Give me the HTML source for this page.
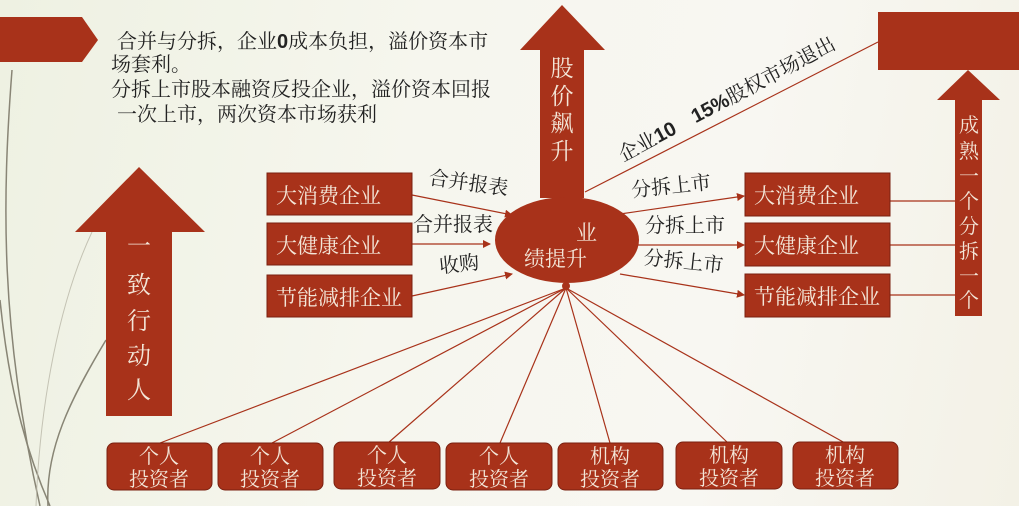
<!DOCTYPE html>
<html><head><meta charset="utf-8"><style>
html,body{margin:0;padding:0;width:1019px;height:506px;overflow:hidden}
body{background:linear-gradient(100deg,#eef1e2 0%,#f6f6ee 40%,#f8f7f2 70%,#f3f1e6 100%)}
svg{display:block}
text{font-family:"Liberation Serif","Noto Serif CJK SC",serif}
</style></head><body>
<svg width="1019" height="506" viewBox="0 0 1019 506" xmlns="http://www.w3.org/2000/svg">
<defs>
<marker id="ar" markerWidth="8" markerHeight="8" refX="7" refY="4" orient="auto" markerUnits="userSpaceOnUse"><path d="M0,0 L8,4 L0,8 z" fill="#a8321a"/></marker>
</defs>
<g fill="none" stroke="#6f6a5a" stroke-width="1.5" opacity="0.8">
<path d="M12,70 C2,200 0,330 40,506"/>
<path d="M0,300 C10,400 30,460 50,506"/>
<path d="M106,340 C70,400 45,450 48,506"/>
</g>
<g fill="none" stroke="#b9b7a8" stroke-width="1" opacity="0.8">
<path d="M92,232 C60,300 40,400 36,506"/>
</g>
<polygon points="0,17 82,17 98,40 82,62 0,62" fill="#a8321a"/>
<g font-size="20" fill="#222">
<text x="117" y="48">合并与分拆，企业<tspan font-family="Liberation Sans" font-weight="bold">0</tspan>成本负担，溢价资本市</text>
<text x="111" y="71">场套利。</text>
<text x="111" y="96">分拆上市股本融资反投企业，溢价资本回报</text>
<text x="117" y="121">一次上市，两次资本市场获利</text>
</g>
<polygon points="139,167 205,232 172,232 172,416 106,416 106,232 75,232" fill="#a8321a"/>
<g font-size="24" fill="#f3e6d8" text-anchor="middle">
<text x="139" y="254">一</text><text x="139" y="293">致</text><text x="139" y="329">行</text><text x="139" y="364">动</text><text x="139" y="398">人</text>
</g>
<polygon points="562,5 605,50 584,50 584,198 540,198 540,50 520,50" fill="#a8321a"/>
<g font-size="23" fill="#f3e6d8" text-anchor="middle">
<text x="562" y="76">股</text><text x="562" y="104">价</text><text x="562" y="131">飙</text><text x="562" y="159">升</text>
</g>
<rect x="878" y="12" width="141" height="58" fill="#a8321a"/>
<polygon points="968,70 1000,100 982,100 982,316 955,316 955,100 937,100" fill="#a8321a"/>
<g font-size="20" fill="#f3e6d8" text-anchor="middle">
<text x="969" y="132">成</text><text x="969" y="158">熟</text><text x="969" y="183">一</text><text x="969" y="208">个</text><text x="969" y="233">分</text><text x="969" y="258">拆</text><text x="969" y="283">一</text><text x="969" y="307">个</text>
</g>
<g stroke="#a8321a" stroke-width="1.2" fill="none">
<line x1="585" y1="192" x2="878" y2="42"/>
<line x1="412" y1="195" x2="512" y2="215" marker-end="url(#ar)"/>
<line x1="412" y1="244" x2="490" y2="244" marker-end="url(#ar)"/>
<line x1="412" y1="296" x2="512" y2="274" marker-end="url(#ar)"/>
<line x1="620" y1="214" x2="744" y2="196" marker-end="url(#ar)"/>
<line x1="638" y1="245" x2="744" y2="245" marker-end="url(#ar)"/>
<line x1="620" y1="274" x2="744" y2="295" marker-end="url(#ar)"/>
<line x1="890" y1="201" x2="955" y2="201"/>
<line x1="890" y1="245" x2="955" y2="245"/>
<line x1="890" y1="295" x2="955" y2="295"/>
<line x1="566" y1="288" x2="160" y2="443"/>
<line x1="566" y1="288" x2="272" y2="443"/>
<line x1="566" y1="288" x2="388" y2="443"/>
<line x1="566" y1="288" x2="500" y2="443"/>
<line x1="566" y1="288" x2="610" y2="443"/>
<line x1="566" y1="288" x2="728" y2="443"/>
<line x1="566" y1="288" x2="845" y2="443"/>
</g>
<ellipse cx="567" cy="240" rx="72" ry="43" fill="#a8321a"/>
<circle cx="566" cy="286" r="4" fill="#a8321a"/>
<circle cx="562" cy="200" r="3" fill="#a8321a"/>
<g font-size="21" fill="#f3e6d8">
<text x="576" y="240">业</text>
<text x="524" y="266">绩提升</text>
</g>
<g fill="#a8321a" stroke="#7a2010" stroke-width="1">
<rect x="267" y="173" width="145" height="42"/>
<rect x="267" y="223" width="145" height="42"/>
<rect x="267" y="275" width="145" height="42"/>
<rect x="745" y="173" width="145" height="43"/>
<rect x="745" y="223" width="145" height="43"/>
<rect x="745" y="274" width="145" height="43"/>
</g>
<g font-size="21" fill="#f3e6d8">
<text x="276" y="203">大消费企业</text>
<text x="276" y="253">大健康企业</text>
<text x="276" y="305">节能减排企业</text>
<text x="754" y="203">大消费企业</text>
<text x="754" y="253">大健康企业</text>
<text x="754" y="304">节能减排企业</text>
</g>
<g font-size="20" fill="#222">
<text x="428" y="184" transform="rotate(8 428 184)">合并报表</text>
<text x="413" y="231">合并报表</text>
<text x="440" y="273" transform="rotate(-6 440 273)">收购</text>
<text x="632" y="197" transform="rotate(-6 632 197)">分拆上市</text>
<text x="645" y="232">分拆上市</text>
<text x="643" y="264" transform="rotate(6 643 264)">分拆上市</text>
<text x="623" y="162" transform="rotate(-28 623 162)">企业<tspan font-family="Liberation Sans" font-weight="bold">10　15%</tspan>股权市场退出</text>
</g>
<g fill="#a8321a" stroke="#7a2010" stroke-width="1">
<rect x="107" y="443" width="105" height="47" rx="7"/>
<rect x="218" y="443" width="105" height="47" rx="7"/>
<rect x="334" y="442" width="106" height="47" rx="7"/>
<rect x="446" y="443" width="106" height="47" rx="7"/>
<rect x="558" y="443" width="105" height="47" rx="7"/>
<rect x="676" y="442" width="106" height="47" rx="7"/>
<rect x="793" y="442" width="105" height="47" rx="7"/>
</g>
<g font-size="20" fill="#f3e6d8" text-anchor="middle">
<text x="159" y="463">个人</text><text x="159" y="486">投资者</text>
<text x="270" y="463">个人</text><text x="270" y="486">投资者</text>
<text x="387" y="462">个人</text><text x="387" y="485">投资者</text>
<text x="499" y="463">个人</text><text x="499" y="486">投资者</text>
<text x="610" y="463">机构</text><text x="610" y="486">投资者</text>
<text x="729" y="462">机构</text><text x="729" y="485">投资者</text>
<text x="845" y="462">机构</text><text x="845" y="485">投资者</text>
</g>
</svg>
</body></html>
